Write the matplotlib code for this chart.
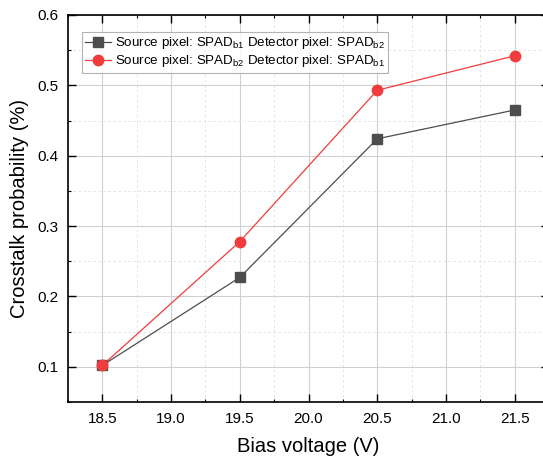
import matplotlib
matplotlib.use("Agg")
import matplotlib.pyplot as plt
from matplotlib.ticker import MultipleLocator

plt.rcParams["font.family"] = "Liberation Sans"
plt.rcParams["mathtext.fontset"] = "custom"
plt.rcParams["mathtext.rm"] = "Liberation Sans"

voltage = [18.5, 19.5, 20.5, 21.5]
b1_to_b2 = [0.102, 0.227, 0.424, 0.465]
b2_to_b1 = [0.102, 0.278, 0.493, 0.542]

label_b1 = r"Source pixel: SPAD$_{\mathrm{b1}}$ Detector pixel: SPAD$_{\mathrm{b2}}$"
label_b2 = r"Source pixel: SPAD$_{\mathrm{b2}}$ Detector pixel: SPAD$_{\mathrm{b1}}$"

fig = plt.figure(figsize=(5.43, 4.58), dpi=100)
ax = fig.add_axes([0.1252, 0.1223, 0.886, 0.845])

ax.plot(voltage, b1_to_b2, color="#4d4d4d", lw=0.9, marker="s", ms=6.5,
        markerfacecolor="#4d4d4d", markeredgecolor="#4d4d4d", label=label_b1, zorder=3)
ax.plot(voltage, b2_to_b1, color="#f03c3c", lw=0.9, marker="o", ms=7.5,
        markerfacecolor="#f03c3c", markeredgecolor="#f03c3c", label=label_b2, zorder=4)

ax.set_xlim(18.25, 21.75)
ax.set_ylim(0.05, 0.6)
ax.xaxis.set_major_locator(MultipleLocator(0.5))
ax.xaxis.set_minor_locator(MultipleLocator(0.25))
ax.yaxis.set_major_locator(MultipleLocator(0.1))
ax.yaxis.set_minor_locator(MultipleLocator(0.05))
ax.xaxis.set_major_formatter(plt.FormatStrFormatter("%.1f"))
ax.yaxis.set_major_formatter(plt.FormatStrFormatter("%.1f"))

ax.grid(which="major", color="#d0d0d0", lw=0.8, ls="-")
ax.grid(which="minor", color="#e0e0e0", lw=0.6, ls=(0, (3, 3)))
ax.set_axisbelow(True)

ax.tick_params(which="major", direction="in", length=5.5, width=1.0,
               top=True, right=True, labelsize=11, pad=7)
ax.tick_params(which="minor", direction="in", length=2.5, width=0.8,
               top=True, right=True)
for s in ax.spines.values():
    s.set_linewidth(1.2)
# the right border falls just outside the picture
ax.spines["right"].set_visible(False)

ax.set_xlabel("Bias voltage (V)", fontsize=14.5, labelpad=8)
ax.set_ylabel("Crosstalk probability (%)", fontsize=14.5, labelpad=6)

leg = ax.legend(loc="upper left", bbox_to_anchor=(0.029, 0.956), fontsize=9.6,
                frameon=True, fancybox=False, edgecolor="#a0a0a0",
                handlelength=1.9, borderpad=0.25, labelspacing=0.15,
                handletextpad=0.35, borderaxespad=0)
leg.get_frame().set_linewidth(0.8)

fig.savefig("out.png", dpi=100)
